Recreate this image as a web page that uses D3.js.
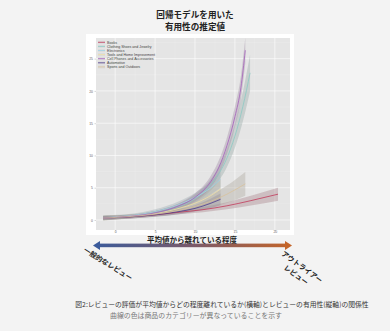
<!DOCTYPE html>
<html>
<head>
<meta charset="utf-8">
<script src="https://cdn.jsdelivr.net/npm/d3@7"></script>
<style>
  html, body { margin: 0; padding: 0; background: #f3f3f3; }
  svg { display: block; font-family: "Noto Sans CJK JP", "Noto Sans", sans-serif; }
</style>
</head>
<body>
<svg id="chart"></svg>
<script>
const width = 390
const height = 331

// categories in legend order, with their line colours
const categories = ['Books', 'Clothing Shoes and Jewelry', 'Electronics', 'Tools and Home Improvement',
  'Cell Phones and Accessories', 'Automotive', 'Sports and Outdoors']
const colors = ['#c23a5a', '#8ccac4', '#9fd2e4', '#eee0a6', '#a55fbb', '#4e3a8a', '#d8c29c']

// fitted curves: x = distance from mean, y = helpfulness, err = band half width
const booksX = [-1.5, 2, 5, 8, 11, 14, 17, 20.4]
const booksY = [0.3, 0.5, 0.8, 1.2, 1.6, 2.2, 3.0, 4.0]
const booksErr = [0.3, 0.25, 0.25, 0.3, 0.4, 0.55, 0.75, 1.0]

const clothX = [-1.5, 2, 5, 8, 10, 12, 13, 14, 15, 16, 16.9]
const clothY = [0.3, 0.6, 1.1, 2.1, 3.3, 5.5, 7.2, 9.6, 13.0, 17.6, 22.8]
const clothErr = [0.35, 0.2, 0.3, 0.45, 0.6, 0.9, 1.1, 1.4, 1.8, 2.3, 2.8]

const elecX = [-1.5, 2, 5, 8, 10, 12, 13.2]
const elecY = [0.35, 0.7, 1.3, 2.4, 3.5, 5.0, 6.3]
const elecErr = [0.35, 0.25, 0.35, 0.5, 0.7, 1.0, 1.3]

const toolsX = [-1.5, 2, 5, 8, 10, 12, 13.2]
const toolsY = [0.3, 0.6, 1.0, 1.8, 2.6, 3.8, 4.8]
const toolsErr = [0.4, 0.3, 0.4, 0.6, 0.8, 1.2, 1.5]

const cellX = [-1.5, 2, 5, 8, 10, 12, 13, 14, 15, 15.75, 16.3]
const cellY = [0.3, 0.6, 1.1, 2.2, 3.5, 6.0, 8.2, 11.5, 16.0, 20.5, 26.3]
const cellErr = [0.3, 0.2, 0.3, 0.4, 0.6, 0.9, 1.1, 1.3, 1.6, 1.8, 2.0]

const autoX = [-1.5, 2, 5, 8, 10, 12, 13.2]
const autoY = [0.3, 0.5, 0.8, 1.3, 1.8, 2.6, 3.2]
const autoErr = [0.3, 0.25, 0.3, 0.4, 0.5, 0.75, 0.9]

const sportsX = [-1.5, 2, 5, 8, 10, 12, 14, 16.3]
const sportsY = [0.3, 0.55, 0.9, 1.5, 2.1, 2.9, 4.0, 5.6]
const sportsErr = [0.35, 0.3, 0.35, 0.5, 0.7, 1.0, 1.35, 1.85]

const seriesX = [booksX, clothX, elecX, toolsX, cellX, autoX, sportsX]
const seriesY = [booksY, clothY, elecY, toolsY, cellY, autoY, sportsY]
const seriesErr = [booksErr, clothErr, elecErr, toolsErr, cellErr, autoErr, sportsErr]

// axis ticks
const xTicks = [0, 5, 10, 15, 20]
const yTicks = [0, 5, 10, 15, 20, 25]
const xMinor = [2.5, 7.5, 12.5, 17.5]
const yMinor = [2.5, 7.5, 12.5, 17.5, 22.5, 27.5]

// texts
const titleLines = ['回帰モデルを用いた', '有用性の推定値']
const xTitle = '平均値から離れている程度'
const leftLabel = '一般的なレビュー'
const rightLabel = ['アウトライアー', 'レビュー']
const caption1 = '図2:レビューの評価が平均値からどの程度離れているか(横軸)とレビューの有用性(縦軸)の関係性'
const caption2 = '曲線の色は商品のカテゴリーが異なっていることを示す'

const panel = {left: 96, right: 290, top: 38, bottom: 230}

const x = d3.scaleLinear().domain([-2.4, 21.9]).range([panel.left, panel.right])
const y = d3.scaleLinear().domain([-1.55, 28.2]).range([panel.bottom, panel.top])

const svg = d3.select('#chart')
  .attr('width', width)
  .attr('height', height)

svg.append('rect')
  .attr('width', width).attr('height', height)
  .attr('fill', '#f3f3f3')

// white card behind the plot
svg.append('rect')
  .attr('x', 86).attr('y', 34)
  .attr('width', 208).attr('height', 201)
  .attr('fill', '#ffffff')

// title
svg.append('g')
  .selectAll('text')
  .data(titleLines)
  .join('text')
    .attr('x', 195)
    .attr('y', (d, i) => 17.6 + i * 12.5)
    .attr('text-anchor', 'middle')
    .attr('font-size', 8.6)
    .attr('font-weight', 'bold')
    .attr('fill', '#222')
    .text(d => d)

// panel
svg.append('rect')
  .attr('x', panel.left).attr('y', panel.top)
  .attr('width', panel.right - panel.left)
  .attr('height', panel.bottom - panel.top)
  .attr('fill', '#e5e5e5')

const grid = svg.append('g')
grid.selectAll('line.vminor')
  .data(xMinor)
  .join('line')
    .attr('class', 'vminor')
    .attr('x1', d => x(d)).attr('x2', d => x(d))
    .attr('y1', panel.top).attr('y2', panel.bottom)
    .attr('stroke', '#f0f0f0').attr('stroke-width', 0.3)
grid.selectAll('line.hminor')
  .data(yMinor)
  .join('line')
    .attr('class', 'hminor')
    .attr('y1', d => y(d)).attr('y2', d => y(d))
    .attr('x1', panel.left).attr('x2', panel.right)
    .attr('stroke', '#f0f0f0').attr('stroke-width', 0.3)
grid.selectAll('line.vmajor')
  .data(xTicks)
  .join('line')
    .attr('class', 'vmajor')
    .attr('x1', d => x(d)).attr('x2', d => x(d))
    .attr('y1', panel.top).attr('y2', panel.bottom)
    .attr('stroke', '#fff').attr('stroke-width', 0.6)
grid.selectAll('line.hmajor')
  .data(yTicks)
  .join('line')
    .attr('class', 'hmajor')
    .attr('y1', d => y(d)).attr('y2', d => y(d))
    .attr('x1', panel.left).attr('x2', panel.right)
    .attr('stroke', '#fff').attr('stroke-width', 0.6)

// axes
const xAxis = svg.append('g')
  .attr('transform', `translate(0, ${panel.bottom})`)
  .call(d3.axisBottom(x).tickValues(xTicks).tickSize(1))
const yAxis = svg.append('g')
  .attr('transform', `translate(${panel.left}, 0)`)
  .call(d3.axisLeft(y).tickValues(yTicks).tickSize(1.5).tickPadding(1.5))
;[xAxis, yAxis].forEach(a => {
  a.select('.domain').remove()
  a.selectAll('line').attr('stroke', '#999').attr('stroke-width', 0.4)
  a.selectAll('text').attr('font-size', 3.4).attr('fill', '#666')
    .attr('font-family', '"Liberation Sans", sans-serif')
})
// keep the x tick labels tight under the panel
xAxis.selectAll('text').attr('y', 0.5).attr('dy', '0.71em')

// curves and confidence bands
const plot = svg.append('g')
svg.append('clipPath').attr('id', 'clip')
  .append('rect')
    .attr('x', panel.left).attr('y', panel.top)
    .attr('width', panel.right - panel.left)
    .attr('height', panel.bottom - panel.top)
plot.attr('clip-path', 'url(#clip)')

const series = categories.map((c, i) => ({
  name: c,
  color: colors[i],
  points: seriesX[i].map((v, j) => ({x: v, y: seriesY[i][j], e: seriesErr[i][j]}))
}))

const band = d3.area()
  .x(d => x(d.x))
  .y0(d => y(d.y - d.e))
  .y1(d => y(d.y + d.e))
  .curve(d3.curveMonotoneX)
const line = d3.line()
  .x(d => x(d.x))
  .y(d => y(d.y))
  .curve(d3.curveMonotoneX)

plot.selectAll('path.band')
  .data(series)
  .join('path')
    .attr('class', 'band')
    .attr('d', d => band(d.points))
    .attr('fill', d => d3.interpolateRgb(d.color, '#999999')(0.7))
    .attr('fill-opacity', 0.38)
    .attr('stroke', 'none')

plot.selectAll('path.line')
  .data(series)
  .join('path')
    .attr('class', 'line')
    .attr('d', d => line(d.points))
    .attr('fill', 'none')
    .attr('stroke', d => d.color)
    .attr('stroke-width', 0.8)

// legend
const legend = svg.append('g')
  .selectAll('g')
  .data(series)
  .join('g')
    .attr('transform', (d, i) => `translate(98, ${42.3 + i * 4.1})`)
legend.append('rect')
  .attr('x', 0).attr('y', -1.6)
  .attr('width', 7).attr('height', 3.2)
  .attr('fill', '#dcdcdc')
legend.append('line')
  .attr('x1', 0).attr('x2', 7)
  .attr('stroke', d => d.color)
  .attr('stroke-width', 0.8)
legend.append('text')
  .attr('x', 9)
  .attr('dy', '0.35em')
  .attr('font-size', 3.6)
  .attr('font-family', '"Liberation Sans", sans-serif')
  .attr('fill', '#444')
  .text(d => d.name)

// x axis title and arrow
svg.append('text')
  .attr('x', 192).attr('y', 242.6)
  .attr('text-anchor', 'middle')
  .attr('font-size', 7.5)
  .attr('font-weight', 'bold')
  .attr('fill', '#222')
  .text(xTitle)

const grad = svg.append('defs').append('linearGradient')
  .attr('id', 'arrowGrad')
  .attr('gradientUnits', 'userSpaceOnUse')
  .attr('x1', 93).attr('x2', 292).attr('y1', 0).attr('y2', 0)
grad.append('stop').attr('offset', '0%').attr('stop-color', '#3b5b9b')
grad.append('stop').attr('offset', '50%').attr('stop-color', '#7a5a6a')
grad.append('stop').attr('offset', '100%').attr('stop-color', '#c4652a')

svg.append('rect')
  .attr('x', 98).attr('y', 243.6)
  .attr('width', 189).attr('height', 3.6)
  .attr('fill', 'url(#arrowGrad)')
svg.append('path')
  .attr('d', 'M93,245.4 L100,240.9 L100,249.9 Z')
  .attr('fill', '#3b5b9b')
svg.append('path')
  .attr('d', 'M292,245.4 L285,240.9 L285,249.9 Z')
  .attr('fill', '#c4652a')

// rotated end labels
svg.append('text')
  .attr('transform', 'translate(108, 264) rotate(32)')
  .attr('text-anchor', 'middle')
  .attr('dy', '0.35em')
  .attr('font-size', 7)
  .attr('font-weight', 'bold')
  .attr('fill', '#222')
  .text(leftLabel)

svg.append('g')
  .attr('transform', 'translate(302, 267) rotate(36)')
  .selectAll('text')
  .data(rightLabel)
  .join('text')
    .attr('y', (d, i) => i * 10)
    .attr('dy', '0.35em')
    .attr('text-anchor', 'middle')
    .attr('font-size', 7)
    .attr('font-weight', 'bold')
    .attr('fill', '#222')
    .text(d => d)

// caption
svg.append('text')
  .attr('x', 222).attr('y', 307)
  .attr('text-anchor', 'middle')
  .attr('font-size', 6.8)
  .attr('fill', '#333')
  .text(caption1)
svg.append('text')
  .attr('x', 196).attr('y', 318)
  .attr('text-anchor', 'middle')
  .attr('font-size', 6.9)
  .attr('fill', '#777')
  .text(caption2)
</script>
</body>
</html>
